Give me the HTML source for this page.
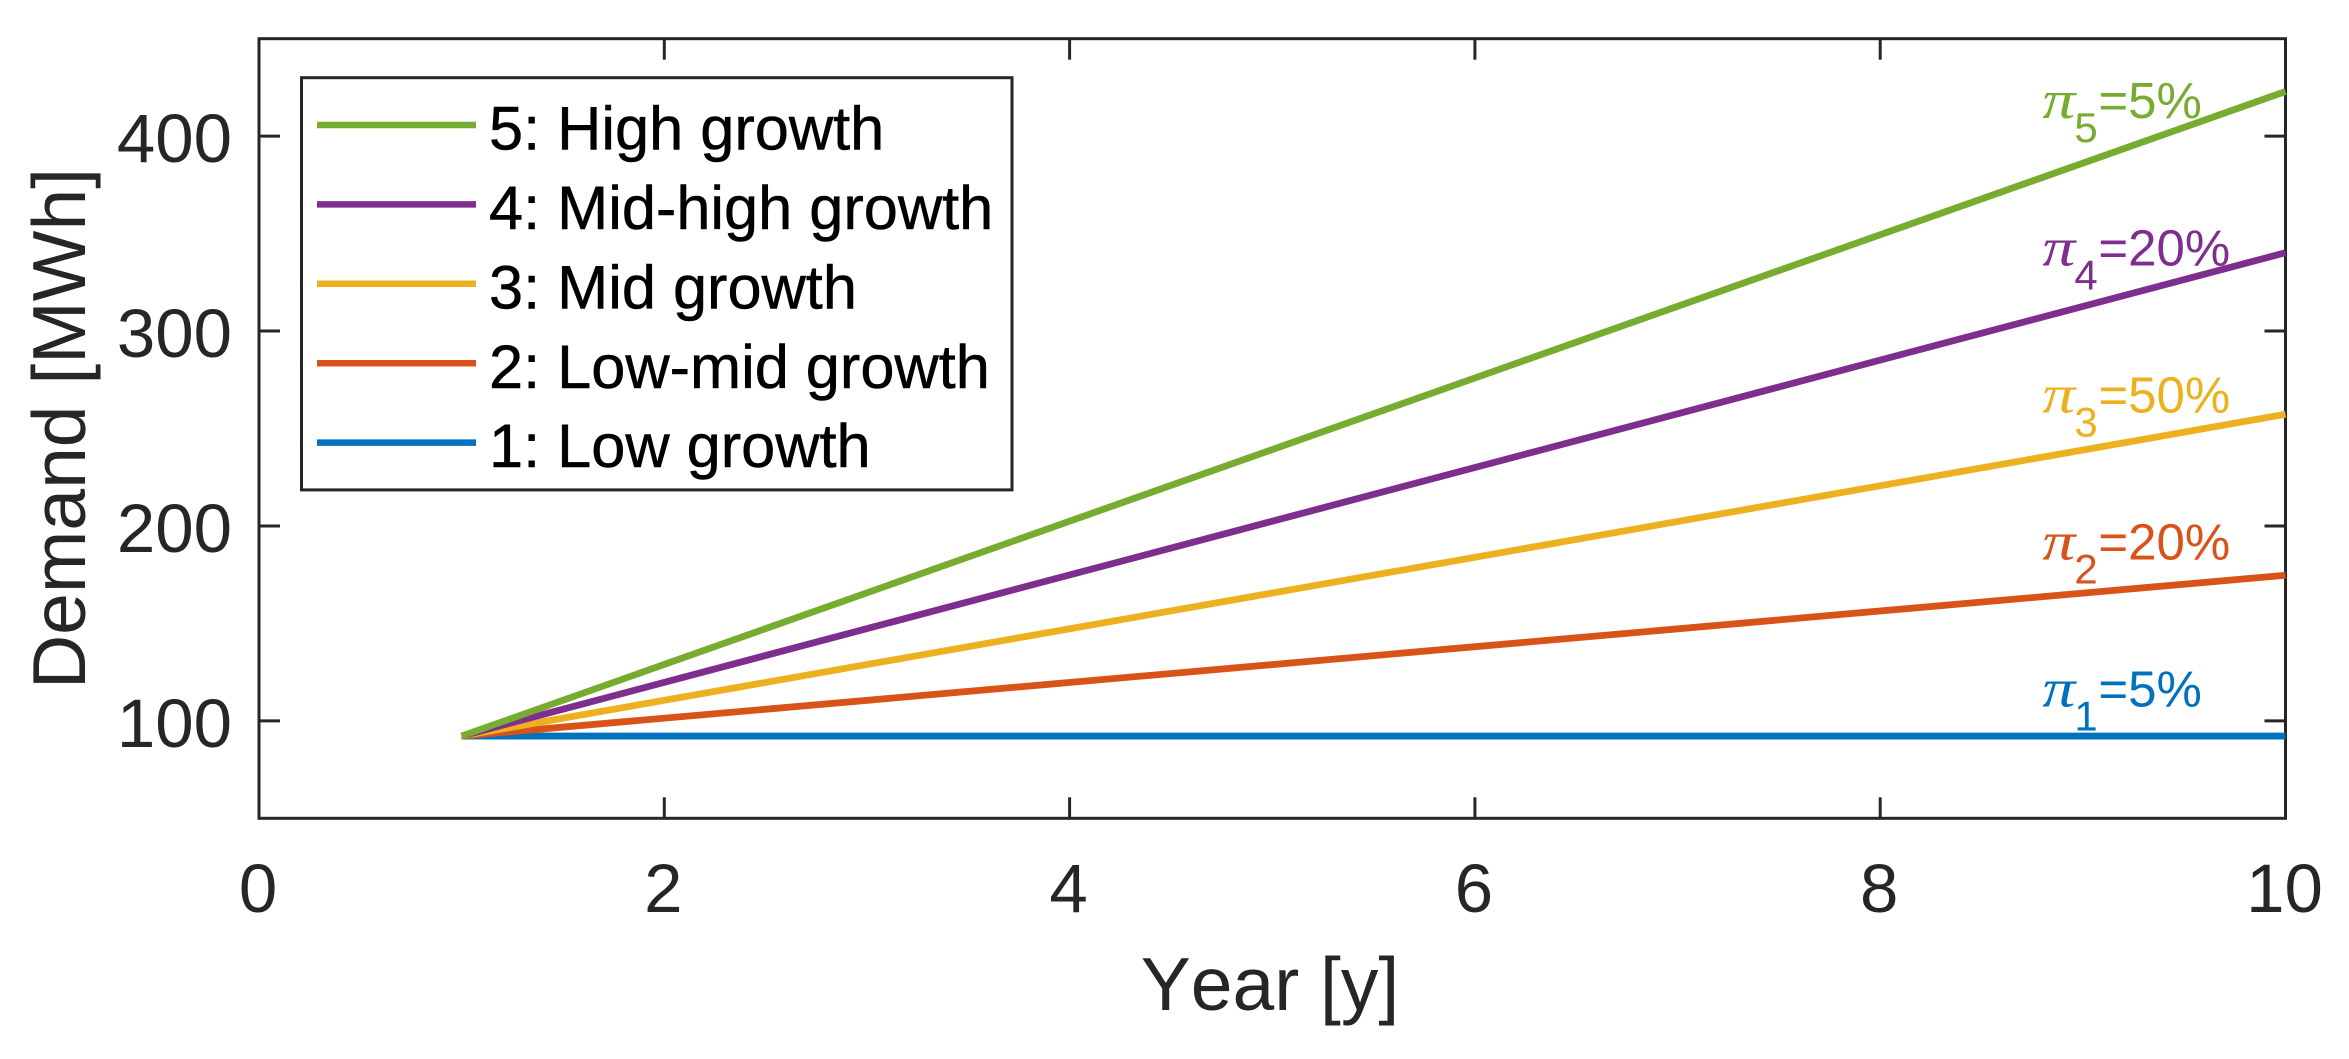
<!DOCTYPE html>
<html lang="en">
<head>
<meta charset="utf-8">
<title>Demand growth scenarios</title>
<style>
html,body{margin:0;padding:0;background:#fff;width:2349px;height:1059px;overflow:hidden}
svg{display:block}
text{font-family:"Liberation Sans",Arial,sans-serif;font-kerning:none}
</style>
</head>
<body>
<svg id="chart" xmlns="http://www.w3.org/2000/svg" width="2349" height="1059" viewBox="0 0 2349 1059"></svg>
<script>
const xTicks = [0, 2, 4, 6, 8, 10];
const yTicks = [100, 200, 300, 400];
const years = [1, 10];
const lowGrowth = [92.2, 92.2];
const lowMidGrowth = [92.2, 174.7];
const midGrowth = [92.2, 257.3];
const midHighGrowth = [92.2, 340.2];
const highGrowth = [92.2, 422.9];
const seriesValues = [lowGrowth, lowMidGrowth, midGrowth, midHighGrowth, highGrowth];
const seriesNames = ['1: Low growth', '2: Low-mid growth', '3: Mid growth', '4: Mid-high growth', '5: High growth'];
const seriesColors = ['#0072BD', '#D95319', '#EDB120', '#7E2F8E', '#77AC30'];
const probabilities = ['=5%', '=20%', '=50%', '=20%', '=5%'];
const probabilityYear = 8.81;
const probabilityDemand = [107.3, 182.8, 258.2, 333.7, 409.2];

const svg = document.getElementById('chart');
const NS = 'http://www.w3.org/2000/svg';
const INK = '#262626';
const plotLeft = 259, plotRight = 2285.5, plotTop = 38.7, plotBottom = 818.3;
const xMin = 0, xMax = 10, yMin = 50, yMax = 450;
function xAt(v) { return plotLeft + (v - xMin) / (xMax - xMin) * (plotRight - plotLeft); }
function yAt(v) { return plotBottom - (v - yMin) / (yMax - yMin) * (plotBottom - plotTop); }

function make(tag, attrs, parent) {
  const el = document.createElementNS(NS, tag);
  for (const k in attrs) el.setAttribute(k, attrs[k]);
  (parent || svg).appendChild(el);
  return el;
}
function label(str, x, y, size, fill, anchor, parent) {
  const el = make('text', { x: x, y: y, 'font-size': size, fill: fill, 'text-anchor': anchor || 'start' }, parent);
  el.textContent = str;
  return el;
}

const defs = make('defs', {});
const clip = make('clipPath', { id: 'plot-clip' }, defs);
make('rect', { x: plotLeft, y: plotTop, width: plotRight - plotLeft + 1.5, height: plotBottom - plotTop }, clip);

// ticks
xTicks.forEach(function (t) {
  const x = xAt(t);
  if (t !== xMin && t !== xMax) {
    const low = make('line', { x1: x, x2: x, y1: plotBottom, y2: plotBottom - 21, stroke: INK, 'stroke-width': 3 });
    
    
    const high = make('line', { x1: x, x2: x, y1: plotTop, y2: plotTop + 21, stroke: INK, 'stroke-width': 3 });
    
    
  }
  const tl = label(String(t), x - 1, 912, 69, INK, 'middle');
  
  
});
yTicks.forEach(function (t) {
  const y = yAt(t);
  const left = make('line', { x1: plotLeft, x2: plotLeft + 21, y1: y, y2: y, stroke: INK, 'stroke-width': 3 });
  
  
  const right = make('line', { x1: plotRight, x2: plotRight - 21, y1: y, y2: y, stroke: INK, 'stroke-width': 3 });
  
  
  const tl = label(String(t), 232, y + 26, 69, INK, 'end');
  
  
});

// plot frame
const frame = make('rect', { x: plotLeft, y: plotTop, width: plotRight - plotLeft, height: plotBottom - plotTop, fill: 'none', stroke: INK, 'stroke-width': 3 });



// axis titles
const xTitle = label('Year [y]', 1270, 1010, 75, INK, 'middle');


const yTitle = label('Demand [MWh]', 0, 0, 75, INK, 'middle');
yTitle.setAttribute('transform', 'translate(85 428.5) rotate(-90)');



// series
const seriesGroup = make('g', { 'clip-path': 'url(#plot-clip)' });


seriesValues.forEach(function (vals, i) {
  const pts = vals.map(function (v, j) { return xAt(years[j]) + ',' + yAt(v); }).join(' ');
  const line = make('polyline', { points: pts, fill: 'none', stroke: seriesColors[i], 'stroke-width': 6.8 }, seriesGroup);
  
  
});

// probability annotations
probabilities.forEach(function (p, i) {
  const x = xAt(probabilityYear);
  const y = yAt(probabilityDemand[i]);
  const g = make('g', {});
  
  
  const pi = make('text', { x: x - 2, y: y, 'font-size': 54, fill: seriesColors[i], 'font-style': 'italic', textLength: 33, lengthAdjust: 'spacingAndGlyphs' }, g);
  pi.setAttribute('style', 'font-family:"Liberation Serif",serif');
  pi.textContent = 'π';
  label(String(i + 1), x + 30, y + 24, 42, seriesColors[i], 'start', g);
  label(p, x + 54, y, 51, seriesColors[i], 'start', g);
});

// legend
const legend = make('g', {});


make('rect', { x: 301.5, y: 77.7, width: 710.5, height: 412.2, fill: '#fff', stroke: INK, 'stroke-width': 3 }, legend);
const legendTop = 125, legendStep = 79.4;
for (let i = seriesNames.length - 1, row = 0; i >= 0; i--, row++) {
  const y = legendTop + row * legendStep;
  const entry = make('g', {}, legend);
  
  
  make('line', { x1: 317, x2: 476, y1: y, y2: y, stroke: seriesColors[i], 'stroke-width': 6.5 }, entry);
  const t = label(seriesNames[i], 489, y + 24.6, 61.3, '#000', 'start', entry);
  t.setAttribute('stroke', '#000');
  t.setAttribute('stroke-width', '0.5');
}
</script>
</body>
</html>
